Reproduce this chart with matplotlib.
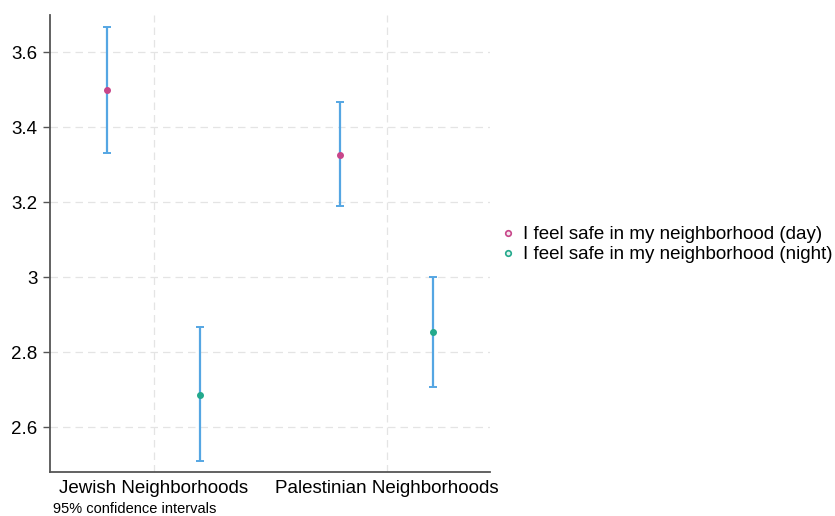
import matplotlib
matplotlib.use("Agg")
import matplotlib.pyplot as plt
import numpy as np

plt.rcParams['font.family'] = ['Liberation Sans', 'DejaVu Sans']

groups = ["Jewish Neighborhoods", "Palestinian Neighborhoods"]
series = ["I feel safe in my neighborhood (day)", "I feel safe in my neighborhood (night)"]
means = [[3.50, 3.326], [2.686, 2.855]]
lower = [[3.331, 3.189], [2.509, 2.707]]
upper = [[3.667, 3.467], [2.867, 3.001]]
yticks = [2.6, 2.8, 3.0, 3.2, 3.4, 3.6]

colors = ["#c8468a", "#23a98c"]
ci_color = "#55a6e3"
offsets = [-0.2, 0.2]

fig = plt.figure(figsize=(8.35, 5.16), dpi=100)
ax = fig.add_axes([0.06, 0.085, 0.527, 0.886])

x = np.arange(1, len(groups) + 1)
for i, name in enumerate(series):
    xs = x + offsets[i]
    m = np.array(means[i])
    lo = np.array(lower[i])
    hi = np.array(upper[i])
    ax.errorbar(xs, m, yerr=[m - lo, hi - m], fmt="none", ecolor=ci_color,
                elinewidth=1.6, capsize=3.2, capthick=1.4, zorder=2)
    ax.scatter(xs, m, s=16, color=colors[i], zorder=3, label=name)

ax.set_xlim(0.555, 2.445)
ax.set_ylim(2.48, 3.7)
ax.set_xticks(x)
ax.set_xticklabels(groups, fontsize=13.5)
ax.set_yticks(yticks)
ax.set_yticklabels([f"{t:g}" for t in yticks], fontsize=13.5)
ax.tick_params(axis="x", length=0, pad=6)
ax.tick_params(axis="y", length=5, color="#555555", width=1, pad=4)

ax.grid(True, color="#e4e4e4", linestyle=(0, (6, 4)), linewidth=0.9)
ax.set_axisbelow(True)
for s in ["top", "right"]:
    ax.spines[s].set_visible(False)
for s in ["left", "bottom"]:
    ax.spines[s].set_color("#555555")
    ax.spines[s].set_linewidth(1.3)

leg_handles = [plt.Line2D([], [], marker="o", linestyle="none", markersize=4,
                          markerfacecolor="#f4e8ee" if c == colors[0] else "#e6f4f0",
                          markeredgecolor=c, markeredgewidth=1.2)
               for c in colors]
fig.legend(leg_handles, series, loc="center left", bbox_to_anchor=(0.599, 0.526),
           frameon=False, fontsize=13.5, handletextpad=0.4, labelspacing=0.15,
           handlelength=0.8, borderpad=0, borderaxespad=0)

fig.text(0.064, 0.005, "95% confidence intervals", fontsize=10.5)

fig.savefig("out.png", dpi=100)
